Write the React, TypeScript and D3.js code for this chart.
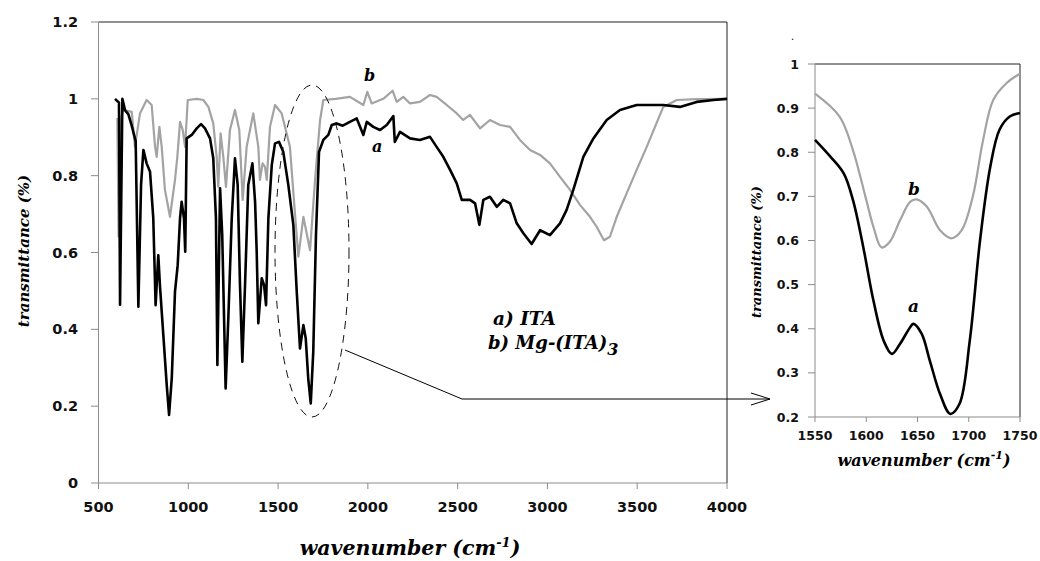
import React from "react";
import * as d3 from "d3";

// FT-IR spectra, main panel
const waveA = [592, 614, 620, 633, 648, 666, 685, 707, 722, 737, 750, 768, 787, 805, 818, 833, 842, 861, 880, 893, 908, 926, 941, 954, 963, 976, 983, 991, 1019, 1047, 1071, 1093, 1121, 1139, 1154, 1162, 1177, 1189, 1208, 1223, 1242, 1260, 1275, 1288, 1301, 1316, 1334, 1357, 1372, 1381, 1390, 1409, 1422, 1433, 1446, 1465, 1483, 1505, 1529, 1557, 1585, 1604, 1622, 1641, 1654, 1668, 1682, 1696, 1711, 1728, 1752, 1780, 1799, 1826, 1860, 1900, 1938, 1975, 1994, 2030, 2068, 2105, 2142, 2150, 2179, 2235, 2290, 2346, 2383, 2420, 2458, 2495, 2523, 2569, 2597, 2621, 2643, 2680, 2718, 2754, 2792, 2829, 2866, 2912, 2959, 3014, 3070, 3107, 3144, 3200, 3256, 3330, 3404, 3497, 3645, 3738, 3831, 3924, 4000];
const transA = [1.0, 0.99, 0.464, 1.0, 0.97, 0.96, 0.93, 0.89, 0.459, 0.776, 0.867, 0.832, 0.81, 0.69, 0.463, 0.593, 0.515, 0.385, 0.255, 0.177, 0.273, 0.498, 0.567, 0.689, 0.732, 0.689, 0.602, 0.897, 0.906, 0.923, 0.934, 0.923, 0.897, 0.846, 0.69, 0.307, 0.767, 0.645, 0.246, 0.43, 0.689, 0.845, 0.776, 0.515, 0.316, 0.515, 0.776, 0.832, 0.732, 0.602, 0.416, 0.533, 0.515, 0.463, 0.689, 0.828, 0.884, 0.888, 0.862, 0.776, 0.672, 0.498, 0.35, 0.411, 0.377, 0.272, 0.207, 0.342, 0.645, 0.862, 0.893, 0.906, 0.932, 0.936, 0.93, 0.94, 0.949, 0.906, 0.94, 0.927, 0.919, 0.932, 0.955, 0.888, 0.914, 0.897, 0.893, 0.901, 0.875, 0.849, 0.815, 0.78, 0.737, 0.737, 0.728, 0.672, 0.737, 0.745, 0.719, 0.737, 0.728, 0.676, 0.65, 0.622, 0.658, 0.645, 0.676, 0.711, 0.763, 0.849, 0.897, 0.945, 0.971, 0.984, 0.984, 0.979, 0.992, 0.997, 1.0];

const waveB = [605, 612, 625, 638, 685, 703, 731, 768, 796, 815, 824, 839, 852, 870, 898, 926, 939, 954, 969, 982, 997, 1047, 1084, 1112, 1139, 1158, 1167, 1180, 1195, 1210, 1232, 1260, 1284, 1303, 1325, 1362, 1390, 1399, 1414, 1427, 1437, 1455, 1483, 1520, 1566, 1594, 1613, 1641, 1678, 1706, 1734, 1752, 1820, 1900, 1975, 1997, 2021, 2086, 2138, 2161, 2197, 2235, 2290, 2346, 2383, 2439, 2495, 2531, 2569, 2625, 2680, 2736, 2792, 2847, 2903, 2959, 3014, 3070, 3126, 3181, 3237, 3274, 3315, 3348, 3386, 3441, 3497, 3553, 3599, 3645, 3720, 3831, 4000];
const transB = [0.95, 0.641, 0.95, 0.971, 0.966, 0.875, 0.962, 0.997, 0.984, 0.875, 0.849, 0.927, 0.875, 0.763, 0.693, 0.789, 0.849, 0.94, 0.919, 0.875, 0.997, 1.0, 0.997, 0.979, 0.936, 0.849, 0.771, 0.91, 0.849, 0.771, 0.919, 0.971, 0.919, 0.737, 0.875, 0.962, 0.875, 0.789, 0.832, 0.823, 0.789, 0.927, 0.984, 0.962, 0.875, 0.702, 0.589, 0.693, 0.606, 0.789, 0.945, 0.997, 1.0, 1.005, 0.984, 1.018, 0.988, 1.0, 1.021, 0.992, 1.005, 0.988, 0.992, 1.01, 1.005, 0.984, 0.962, 0.945, 0.958, 0.923, 0.945, 0.932, 0.927, 0.893, 0.867, 0.854, 0.832, 0.797, 0.763, 0.724, 0.693, 0.667, 0.632, 0.641, 0.693, 0.754, 0.815, 0.875, 0.927, 0.979, 0.997, 0.999, 1.0];

// zoomed inset 1550-1750
const insetWaveA = [1550, 1565, 1578, 1587, 1597, 1607, 1617, 1625, 1633, 1643, 1646, 1654, 1662, 1672, 1682, 1691, 1701, 1711, 1721, 1730, 1740, 1750];
const insetTransA = [0.828, 0.79, 0.752, 0.692, 0.586, 0.464, 0.373, 0.343, 0.366, 0.404, 0.411, 0.389, 0.328, 0.252, 0.207, 0.23, 0.373, 0.6, 0.767, 0.851, 0.881, 0.889];
const insetWaveB = [1550, 1574, 1587, 1600, 1607, 1615, 1623, 1633, 1643, 1649, 1659, 1672, 1683, 1693, 1704, 1714, 1724, 1737, 1750];
const insetTransB = [0.933, 0.881, 0.805, 0.692, 0.631, 0.584, 0.597, 0.646, 0.688, 0.693, 0.677, 0.623, 0.605, 0.623, 0.7, 0.828, 0.919, 0.957, 0.978];

const mainXTicks = [500, 1000, 1500, 2000, 2500, 3000, 3500, 4000];
const mainYTicks = [0, 0.2, 0.4, 0.6, 0.8, 1, 1.2];
const insetXTicks = [1550, 1600, 1650, 1700, 1750];
const insetYTicks = [0.2, 0.3, 0.4, 0.5, 0.6, 0.7, 0.8, 0.9, 1];

const tickFont = "'DejaVu Sans', Verdana, sans-serif";
const titleFont = "'DejaVu Serif', Cambria, serif";
const GREY = "#a3a3a3";
const AXIS = "#8c8c8c";

const zip = (xs: number[], ys: number[]) => xs.map((x, i) => [x, ys[i]] as [number, number]);

const App = () => {
  const x = d3.scaleLinear().domain([500, 4000]).range([98.5, 727]);
  const y = d3.scaleLinear().domain([0, 1.2]).range([483, 22]);
  const ix = d3.scaleLinear().domain([1550, 1750]).range([815, 1020]);
  const iy = d3.scaleLinear().domain([0.2, 1]).range([417, 64]);

  const mainLine = d3.line<[number, number]>().x((d) => x(d[0])).y((d) => y(d[1]));
  const insetLine = d3
    .line<[number, number]>()
    .x((d) => ix(d[0]))
    .y((d) => iy(d[1]))
    .curve(d3.curveCatmullRom);

  const fmt = (v: number) => (v === 0 || v === 1 ? String(v) : String(+v.toFixed(1)));

  return (
    <svg width={1040} height={561} style={{ position: "absolute", left: 0, top: 0, background: "#fff" }}>
      {/* main panel frame */}
      <line x1={98.5} x2={727} y1={22} y2={22} stroke="#222" />
      <line x1={727} x2={727} y1={22} y2={483} stroke="#222" />
      <line x1={98.5} x2={98.5} y1={22} y2={483} stroke={AXIS} />
      <line x1={98.5} x2={727} y1={483} y2={483} stroke={AXIS} />
      {mainYTicks.map((t) => (
        <g key={"my" + t}>
          <line x1={91} x2={98.5} y1={y(t)} y2={y(t)} stroke={AXIS} />
          <text x={78} y={y(t) + 5} textAnchor="end" fontFamily={tickFont} fontWeight="bold" fontSize={14.5} fill="#111">
            {fmt(t)}
          </text>
        </g>
      ))}
      {mainXTicks.map((t) => (
        <g key={"mx" + t}>
          <line x1={x(t)} x2={x(t)} y1={483} y2={489} stroke={AXIS} />
          <text x={x(t)} y={512} textAnchor="middle" fontFamily={tickFont} fontWeight="bold" fontSize={14.5} fill="#111">
            {t}
          </text>
        </g>
      ))}

      <path d={mainLine(zip(waveB, transB)) || ""} fill="none" stroke={GREY} strokeWidth={2.2} strokeLinejoin="round" />
      <path d={mainLine(zip(waveA, transA)) || ""} fill="none" stroke="#000" strokeWidth={2.6} strokeLinejoin="round" />

      <text x={364} y={81} fontFamily={titleFont} fontStyle="italic" fontWeight="bold" fontSize={16}>b</text>
      <text x={372} y={152} fontFamily={titleFont} fontStyle="italic" fontWeight="bold" fontSize={16}>a</text>

      <text x={493} y={325} fontFamily={titleFont} fontStyle="italic" fontWeight="bold" fontSize={18.5}>a) ITA</text>
      <text x={488} y={349} fontFamily={titleFont} fontStyle="italic" fontWeight="bold" fontSize={18}>
        b) Mg-(ITA)<tspan dy={6} fontSize={16}>3</tspan>
      </text>

      <text
        transform="translate(29,251) rotate(-90)"
        textAnchor="middle"
        fontFamily={titleFont}
        fontStyle="italic"
        fontWeight="bold"
        fontSize={15}
      >
        transmittance (%)
      </text>
      <text x={410} y={555} textAnchor="middle" fontFamily={titleFont} fontStyle="italic" fontWeight="bold" fontSize={20.5}>
        wavenumber (cm<tspan dy={-8} fontSize={13}>-1</tspan><tspan dy={8}>)</tspan>
      </text>

      {/* dashed ellipse and arrow to inset */}
      <ellipse cx={312} cy={251} rx={37} ry={166} fill="none" stroke="#111" strokeDasharray="8,6" />
      <polyline points="345,350 462,399 770,399" fill="none" stroke="#000" />
      <polyline points="751,393 770,399 751,405" fill="none" stroke="#000" />

      {/* inset */}
      <line x1={815} x2={1020} y1={64} y2={64} stroke="#222" />
      <line x1={1020} x2={1020} y1={64} y2={417} stroke="#222" />
      <line x1={815} x2={815} y1={64} y2={417} stroke={AXIS} />
      <line x1={815} x2={1020} y1={417} y2={417} stroke={AXIS} />
      {insetYTicks.map((t) => (
        <g key={"iy" + t}>
          <line x1={808} x2={815} y1={iy(t)} y2={iy(t)} stroke={AXIS} />
          <text x={799} y={iy(t) + 4.5} textAnchor="end" fontFamily={tickFont} fontWeight="bold" fontSize={12.5} fill="#111">
            {fmt(t)}
          </text>
        </g>
      ))}
      {insetXTicks.map((t) => (
        <g key={"ix" + t}>
          <line x1={ix(t)} x2={ix(t)} y1={417} y2={422} stroke={AXIS} />
          <text x={ix(t)} y={440} textAnchor="middle" fontFamily={tickFont} fontWeight="bold" fontSize={12.5} fill="#111">
            {t}
          </text>
        </g>
      ))}
      <path d={insetLine(zip(insetWaveB, insetTransB)) || ""} fill="none" stroke={GREY} strokeWidth={2.2} />
      <path d={insetLine(zip(insetWaveA, insetTransA)) || ""} fill="none" stroke="#000" strokeWidth={2.6} />
      <text x={908} y={195} fontFamily={titleFont} fontStyle="italic" fontWeight="bold" fontSize={17}>b</text>
      <text x={908} y={312} fontFamily={titleFont} fontStyle="italic" fontWeight="bold" fontSize={17}>a</text>
      <text x={791} y={40} fontFamily={tickFont} fontSize={10}>.</text>
      <text
        transform="translate(761,252) rotate(-90)"
        textAnchor="middle"
        fontFamily={titleFont}
        fontStyle="italic"
        fontWeight="bold"
        fontSize={13}
      >
        transmittance (%)
      </text>
      <text x={924} y={466} textAnchor="middle" fontFamily={titleFont} fontStyle="italic" fontWeight="bold" fontSize={16}>
        wavenumber (cm<tspan dy={-7} fontSize={11}>-1</tspan><tspan dy={7}>)</tspan>
      </text>
    </svg>
  );
};

export default App;
